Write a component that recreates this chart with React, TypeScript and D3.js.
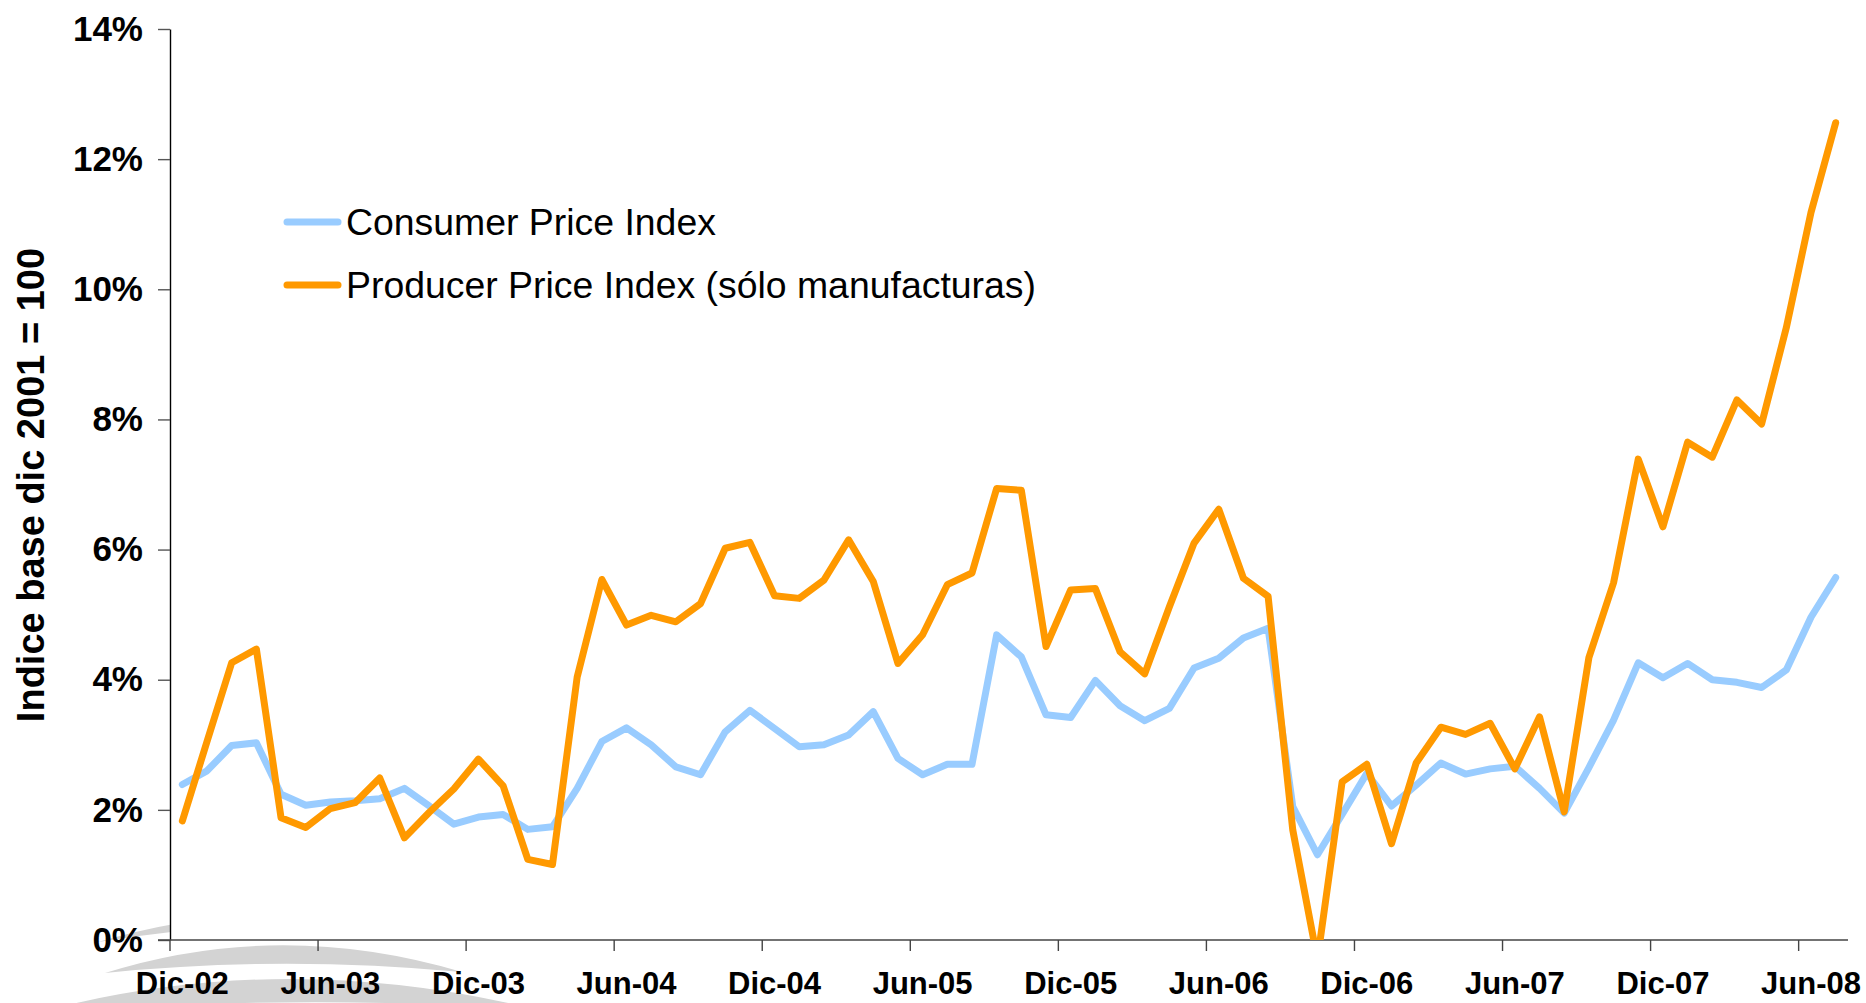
import React, { useEffect, useRef } from "react";
import * as d3 from "d3";

// monthly categories, Dic-02 .. Jul-08
const categories = [
  "Dic-02", "Ene-03", "Feb-03", "Mar-03", "Abr-03", "May-03", "Jun-03", "Jul-03", "Ago-03", "Sep-03", "Oct-03", "Nov-03",
  "Dic-03", "Ene-04", "Feb-04", "Mar-04", "Abr-04", "May-04", "Jun-04", "Jul-04", "Ago-04", "Sep-04", "Oct-04", "Nov-04",
  "Dic-04", "Ene-05", "Feb-05", "Mar-05", "Abr-05", "May-05", "Jun-05", "Jul-05", "Ago-05", "Sep-05", "Oct-05", "Nov-05",
  "Dic-05", "Ene-06", "Feb-06", "Mar-06", "Abr-06", "May-06", "Jun-06", "Jul-06", "Ago-06", "Sep-06", "Oct-06", "Nov-06",
  "Dic-06", "Ene-07", "Feb-07", "Mar-07", "Abr-07", "May-07", "Jun-07", "Jul-07", "Ago-07", "Sep-07", "Oct-07", "Nov-07",
  "Dic-07", "Ene-08", "Feb-08", "Mar-08", "Abr-08", "May-08", "Jun-08", "Jul-08",
];

const xTickLabels = [
  "Dic-02", "Jun-03", "Dic-03", "Jun-04", "Dic-04", "Jun-05",
  "Dic-05", "Jun-06", "Dic-06", "Jun-07", "Dic-07", "Jun-08",
];

const yTicks = [0, 2, 4, 6, 8, 10, 12, 14];

// Consumer Price Index, % y/y
const cpi = [
  2.39, 2.6, 2.99, 3.03, 2.24, 2.07, 2.12, 2.14, 2.17, 2.33, 2.06, 1.78,
  1.89, 1.93, 1.7, 1.74, 2.33, 3.05, 3.26, 3.0, 2.66, 2.54, 3.2, 3.53,
  3.25, 2.97, 3.0, 3.15, 3.51, 2.79, 2.54, 2.7, 2.7, 4.69, 4.35, 3.46,
  3.42, 3.99, 3.6, 3.37, 3.56, 4.18, 4.33, 4.64, 4.79, 2.05, 1.31, 1.93,
  2.56, 2.06, 2.38, 2.72, 2.55, 2.63, 2.67, 2.33, 1.95, 2.65, 3.38, 4.26,
  4.03, 4.25, 4.0, 3.96, 3.88, 4.15, 4.96, 5.57,
];

// Producer Price Index (manufacturing only), % y/y
const ppi = [
  1.83, 3.05, 4.26, 4.47, 1.88, 1.73, 2.02, 2.11, 2.49, 1.57, 1.96, 2.32,
  2.78, 2.37, 1.24, 1.16, 4.04, 5.54, 4.84, 4.99, 4.89, 5.17, 6.02, 6.11,
  5.29, 5.25, 5.53, 6.15, 5.51, 4.25, 4.69, 5.46, 5.64, 6.94, 6.91, 4.51,
  5.38, 5.4, 4.43, 4.09, 5.12, 6.1, 6.62, 5.56, 5.28, 1.69, -0.3, 2.43,
  2.7, 1.48, 2.72, 3.27, 3.16, 3.33, 2.63, 3.43, 1.97, 4.34, 5.49, 7.39,
  6.35, 7.65, 7.42, 8.3, 7.93, 9.41, 11.18, 12.56,
];

const seriesNames = ["Consumer Price Index", "Producer Price Index (sólo manufacturas)"];
const seriesColors = ["#99ccff", "#ff9900"];

const W = 1866;
const H = 1003;
const font = "'Liberation Sans', Arial, Helvetica, sans-serif";

const App = () => {
  const svgRef = useRef(null);

  useEffect(() => {
    const svg = d3.select(svgRef.current);
    svg.selectAll("*").remove();

    const margin = { top: 29, right: 18, bottom: 63, left: 170 };
    const x = d3
      .scaleBand()
      .domain(categories)
      .range([margin.left, W - margin.right]);
    const y = d3
      .scaleLinear()
      .domain([0, 14])
      .range([H - margin.bottom, margin.top]);
    const bw = x.bandwidth();
    const y0 = y(0);

    // faint watermark swooshes behind the chart
    const wm = svg.append("g").attr("fill", "#d3d3d3");
    wm.append("path").attr("d", "M98,942 Q280,888 460,935 Q280,912 98,942 Z");
    wm.append("path").attr("d", "M105,973 Q280,918 462,972 Q280,955 105,973 Z");
    wm.append("path").attr("d", "M40,1012 Q280,948 530,1008 Q280,995 40,1012 Z");

    // plot area is white and hides the watermark
    svg
      .append("rect")
      .attr("x", margin.left)
      .attr("y", 0)
      .attr("width", W - margin.left)
      .attr("height", y0)
      .attr("fill", "#fff");

    // y axis
    const yAxis = svg
      .append("g")
      .attr("transform", `translate(${margin.left},0)`)
      .call(
        d3
          .axisLeft(y)
          .tickValues(yTicks)
          .tickFormat((d) => `${d}%`)
          .tickSize(12)
          .tickSizeOuter(0)
          .tickPadding(15)
      );
    yAxis.select(".domain").attr("stroke", "#000").attr("stroke-width", 1.4);
    yAxis.selectAll(".tick line").attr("stroke", "#555").attr("stroke-width", 1.4);
    yAxis
      .selectAll(".tick text")
      .attr("fill", "#000")
      .style("font-family", font)
      .style("font-size", "35px")
      .style("font-weight", "bold");

    // x axis
    const xAxis = svg.append("g");
    xAxis
      .append("line")
      .attr("x1", margin.left - 12)
      .attr("x2", W - margin.right)
      .attr("y1", y0)
      .attr("y2", y0)
      .attr("stroke", "#444")
      .attr("stroke-width", 1.4);
    xTickLabels.forEach((lab) => {
      const xs = x(lab);
      xAxis
        .append("line")
        .attr("x1", xs)
        .attr("x2", xs)
        .attr("y1", y0)
        .attr("y2", y0 + 11)
        .attr("stroke", "#444")
        .attr("stroke-width", 1.4);
      xAxis
        .append("text")
        .attr("x", xs + bw / 2)
        .attr("y", 994)
        .attr("text-anchor", "middle")
        .attr("fill", "#000")
        .style("font-family", font)
        .style("font-size", "31px")
        .style("font-weight", "bold")
        .text(lab);
    });

    // y axis title
    svg
      .append("text")
      .attr("transform", "translate(31,485) rotate(-90)")
      .attr("text-anchor", "middle")
      .attr("dominant-baseline", "central")
      .attr("fill", "#000")
      .style("font-family", font)
      .style("font-size", "38px")
      .style("font-weight", "bold")
      .text("Indice base dic 2001 = 100");

    // clip lines to the plot area
    svg
      .append("clipPath")
      .attr("id", "plot-clip")
      .append("rect")
      .attr("x", margin.left)
      .attr("y", margin.top - 10)
      .attr("width", W - margin.left - margin.right + 10)
      .attr("height", y0 - margin.top + 10);

    const line = d3
      .line<number>()
      .x((d, i) => x(categories[i]) + bw / 2)
      .y((d) => y(d));

    const lines = svg.append("g").attr("clip-path", "url(#plot-clip)");
    [cpi, ppi].forEach((values, k) => {
      lines
        .append("path")
        .datum(values)
        .attr("fill", "none")
        .attr("stroke", seriesColors[k])
        .attr("stroke-width", 7)
        .attr("stroke-linejoin", "round")
        .attr("stroke-linecap", "round")
        .attr("d", line);
    });

    // legend
    const legend = svg.append("g").attr("transform", "translate(287,222)");
    seriesNames.forEach((name, k) => {
      const g = legend.append("g").attr("transform", `translate(0,${k * 63})`);
      g.append("line")
        .attr("x1", 0)
        .attr("x2", 51)
        .attr("stroke", seriesColors[k])
        .attr("stroke-width", 7)
        .attr("stroke-linecap", "round");
      g.append("text")
        .attr("x", 59)
        .attr("y", 13)
        .attr("fill", "#000")
        .style("font-family", font)
        .style("font-size", "37.4px")
        .text(name);
    });
  }, []);

  return (
    <svg
      ref={svgRef}
      width={W}
      height={H}
      style={{ position: "absolute", left: 0, top: 0, display: "block", background: "#fff" }}
    />
  );
};

export default App;
